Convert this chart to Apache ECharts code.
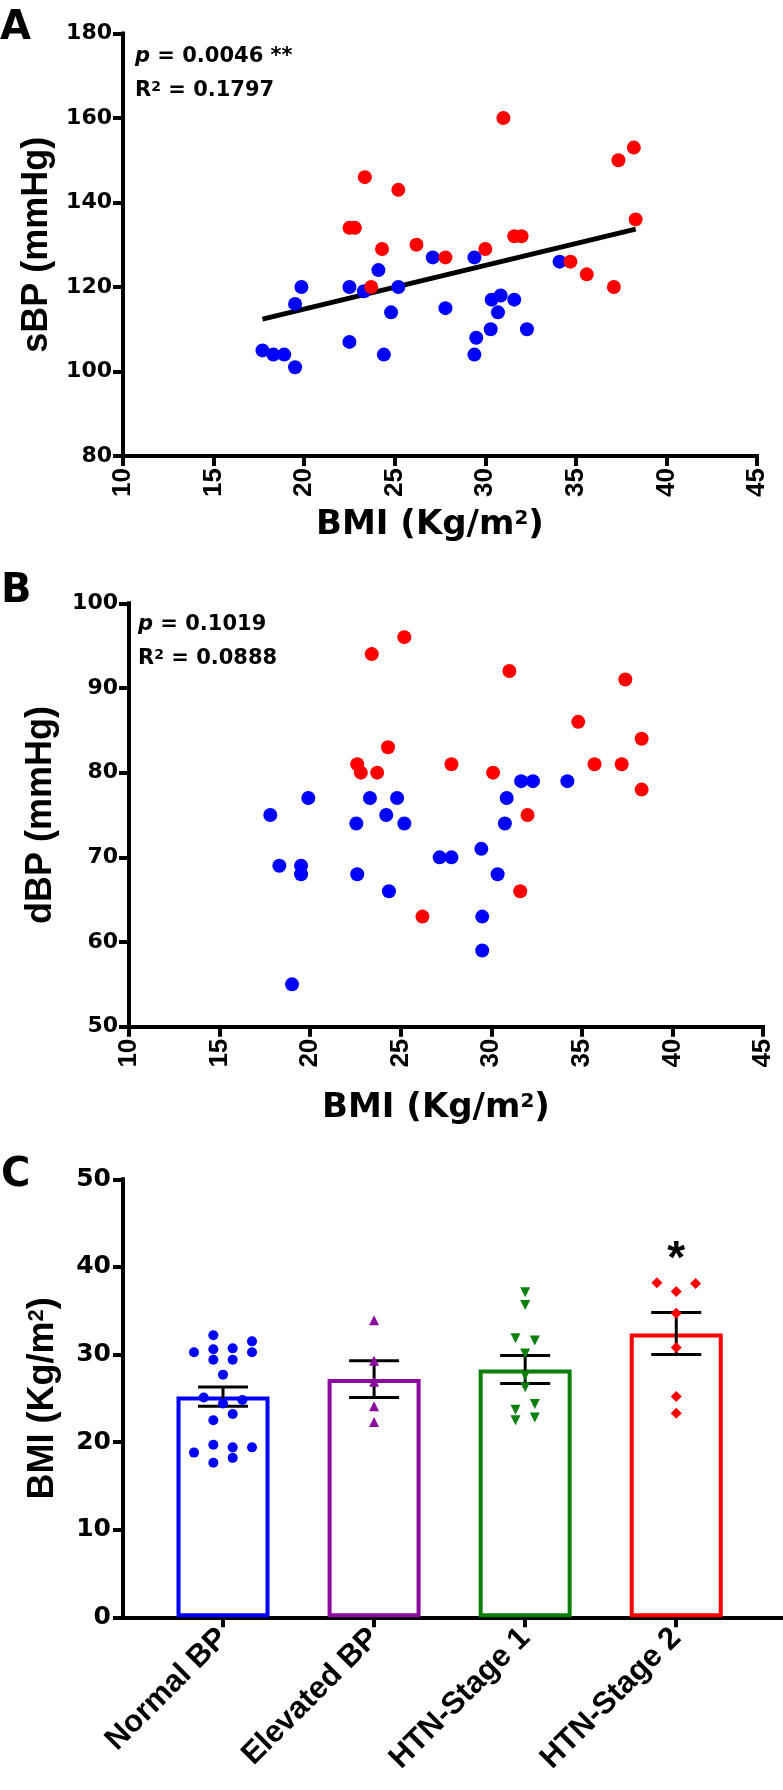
<!DOCTYPE html>
<html><head><meta charset="utf-8">
<script src="https://cdn.jsdelivr.net/npm/echarts@6/dist/echarts.min.js"></script>
<style>html,body{margin:0;padding:0;background:#fff}#c{width:783px;height:1790px}</style>
</head><body><div id="c"></div>
<script>
// ---------- DATA ----------
// Panel A: BMI vs systolic BP
const aBlueBMI = [17.7, 18.3, 18.9, 19.5, 19.5, 19.85, 22.5, 22.5, 23.3, 24.1, 24.4, 24.8, 25.2, 27.1, 27.8, 29.4, 29.4, 29.5, 30.3, 30.35, 30.7, 30.85, 31.6, 32.3, 34.1];
const aBlueSBP = [105, 104, 104, 101, 116, 120, 107, 120, 119, 124, 104, 114, 120, 127, 115, 127, 104, 108, 110, 117, 114, 118, 117, 110, 126];
const aRedBMI = [22.5, 22.8, 23.35, 23.7, 24.3, 25.2, 26.2, 27.8, 30.0, 31.0, 31.6, 32.0, 34.7, 35.6, 37.1, 37.35, 38.2, 38.3];
const aRedSBP = [134, 134, 146, 120, 129, 143, 130, 127, 129, 160, 132, 132, 126, 123, 120, 150, 153, 136];
const fitBMI = [17.7, 38.3];
const fitSBP = [112.4, 133.7];
const aStats = ['0.0046 **', '0.1797'];
const aXTicks = [10, 45, 5];
const aYTicks = [80, 180, 20];

// Panel B: BMI vs diastolic BP
const bBlueBMI = [17.8, 18.3, 19.0, 19.5, 19.5, 19.9, 22.55, 22.6, 23.3, 24.2, 24.35, 24.8, 25.2, 27.15, 27.8, 29.45, 29.5, 29.5, 30.35, 30.75, 30.85, 31.65, 32.3, 34.2];
const bBlueDBP = [75, 69, 55, 69, 68, 77, 74, 68, 77, 75, 66, 77, 74, 70, 70, 71, 63, 59, 68, 74, 77, 79, 79, 79];
const bRedBMI = [22.6, 22.8, 23.4, 23.7, 24.3, 25.2, 26.2, 27.8, 30.1, 31.0, 31.6, 32.0, 34.8, 35.7, 37.2, 37.4, 38.3, 38.3];
const bRedDBP = [81, 80, 94, 80, 83, 96, 63, 81, 80, 92, 66, 75, 86, 81, 81, 91, 84, 78];
const bStats = ['0.1019', '0.0888'];
const bXTicks = [10, 45, 5];
const bYTicks = [50, 100, 10];

// Panel C: BMI by BP group
const groups = ['Normal BP', 'Elevated BP', 'HTN-Stage 1', 'HTN-Stage 2'];
const groupMean = [25.2, 27.2, 28.3, 32.4];
const groupSEM = [1.1, 2.1, 1.6, 2.4];
const normalBMI = [32.2, 30.25, 30.6, 30.7, 31.5, 30.25, 29.4, 29.4, 27.7, 25.1, 24.4, 24.8, 22.5, 23.2, 18.8, 19.7, 19.4, 19.4, 17.65, 18.2];
const elevatedBMI = [33.9, 29.3, 26.9, 24.1, 22.3];
const stage1BMI = [37.1, 35.65, 31.85, 31.6, 30.1, 27.6, 26.25, 23.7, 24.35, 22.5, 22.8];
const stage2BMI = [38.2, 38.1, 37.2, 34.7, 30.8, 25.2, 23.3];
const sigMarks = ['', '', '', '*'];
const cYTicks = [0, 50, 10];

// ---------- LAYOUT / STYLE (not data) ----------
const normalLane = [-1, -3, -1, 1, 3, 3, -1, 1, 0, -2, 0, 2, -1, 1, -3, -1, 1, 3, -1, 1];
const elevatedLane = [0, 0, 0, 0, 0];
const stage1Lane = [0, 0, -1, 1, 0, 0, 0, -1, 1, -1, 1];
const stage2Lane = [-2, 2, 0, 0, 0, 0, 0];
const LANE = 0.064;
const BLUE = '#0000ff', RED = '#ff0000', PURPLE = '#8a0a9e', GREEN = '#0b7f0b';
const groupColors = [BLUE, PURPLE, GREEN, RED];
const HF = 'DejaVu Sans', RF = 'Liberation Sans';

const axisLine = {show: true, onZero: false, lineStyle: {color: '#000', width: 4, cap: 'square'}};
const axisTick = {show: true, length: 10, inside: false, lineStyle: {color: '#000', width: 4}};
function richTitle(size, fam) {
  return {
    a: {fontFamily: fam, fontSize: size, fontWeight: 'bold', color: '#000'},
    s: {fontFamily: fam, fontSize: Math.round(size * 0.6), fontWeight: 'bold', color: '#000', verticalAlign: 'top', padding: [1, 0, 0, 0]}
  };
}
const bmiName = '{a|BMI (Kg/m}{s|2}{a|)}';
const zip = (xs, ys) => xs.map((x, i) => [x, ys[i]]);
const jit = (vals, lanes, g) => vals.map((v, i) => [g + lanes[i] * LANE, v]);

function scatterX(grid, ticks, gap) {
  return {
    gridIndex: grid, type: 'value', min: ticks[0], max: ticks[1], interval: ticks[2],
    axisLine, axisTick, splitLine: {show: false},
    axisLabel: {rotate: 90, fontFamily: RF, fontSize: 26, fontWeight: 'bold', color: '#000', margin: 12},
    name: bmiName, nameLocation: 'middle', nameGap: gap,
    nameTextStyle: {rich: richTitle(34, HF), padding: [0, 20, 0, 0]}
  };
}
function scatterY(grid, ticks, name, gap) {
  return {
    gridIndex: grid, type: 'value', min: ticks[0], max: ticks[1], interval: ticks[2],
    axisLine, axisTick, splitLine: {show: false},
    axisLabel: {fontFamily: HF, fontSize: 22, fontWeight: 'bold', color: '#000', margin: 11},
    name: name, nameLocation: 'middle', nameGap: gap,
    nameTextStyle: {fontFamily: RF, fontSize: 36, fontWeight: 'bold', color: '#000'}
  };
}
function statText(x, y, lines) {
  const rich = {
    i: {fontFamily: HF, fontSize: 21, fontWeight: 'bold', fontStyle: 'italic', color: '#000'},
    b: {fontFamily: HF, fontSize: 21, fontWeight: 'bold', color: '#000'},
    s: {fontFamily: HF, fontSize: 14, fontWeight: 'bold', color: '#000', verticalAlign: 'top'}
  };
  return [
    {type: 'text', left: x, top: y, style: {text: '{i|p}{b| = ' + lines[0] + '}', rich}},
    {type: 'text', left: x, top: y + 34, style: {text: '{b|R}{s|2}{b| = ' + lines[1] + '}', rich}}
  ];
}
const letter = (t, x, y) => ({type: 'text', left: x, top: y, style: {text: t, fontFamily: HF, fontSize: 40, fontWeight: 'bold', fill: '#000'}});

const sigY = Math.max(...stage2BMI) + 2.6;

const option = {
  animation: false,
  backgroundColor: '#fff',
  grid: [
    {left: 123, top: 33.5, width: 634, height: 422.5},
    {left: 129, top: 603.3, width: 634, height: 423.4},
    {left: 123, top: 1179.3, width: 659, height: 438}
  ],
  xAxis: [
    scatterX(0, aXTicks, 52),
    scatterX(1, bXTicks, 64),
    {
      gridIndex: 2, type: 'value', min: 0.338, max: 4.7,
      axisLine, splitLine: {show: false},
      axisTick: Object.assign({}, axisTick, {customValues: [1, 2, 3, 4]}),
      axisLabel: {customValues: [1, 2, 3, 4], formatter: v => groups[Math.round(v) - 1] || '',
        rotate: 45, fontFamily: RF, fontSize: 31, fontWeight: 'bold', color: '#000', margin: 16}
    }
  ],
  yAxis: [
    scatterY(0, aYTicks, 'sBP (mmHg)', 66),
    scatterY(1, bYTicks, 'dBP (mmHg)', 70),
    {
      gridIndex: 2, type: 'value', min: cYTicks[0], max: cYTicks[1], interval: cYTicks[2],
      axisLine, axisTick, splitLine: {show: false},
      axisLabel: {fontFamily: HF, fontSize: 25, fontWeight: 'bold', color: '#000', margin: 12},
      name: bmiName, nameLocation: 'middle', nameGap: 62,
      nameTextStyle: {rich: richTitle(36, RF)}
    }
  ],
  series: [
    {type: 'line', xAxisIndex: 0, yAxisIndex: 0, data: zip(fitBMI, fitSBP), symbol: 'none',
      lineStyle: {color: '#000', width: 5}, z: 2, silent: true},
    {type: 'scatter', xAxisIndex: 0, yAxisIndex: 0, data: zip(aBlueBMI, aBlueSBP), symbolSize: 14, itemStyle: {color: BLUE, opacity: 1}, z: 3},
    {type: 'scatter', xAxisIndex: 0, yAxisIndex: 0, data: zip(aRedBMI, aRedSBP), symbolSize: 14, itemStyle: {color: RED, opacity: 1}, z: 4},
    {type: 'scatter', xAxisIndex: 1, yAxisIndex: 1, data: zip(bBlueBMI, bBlueDBP), symbolSize: 14, itemStyle: {color: BLUE, opacity: 1}, z: 3},
    {type: 'scatter', xAxisIndex: 1, yAxisIndex: 1, data: zip(bRedBMI, bRedDBP), symbolSize: 14, itemStyle: {color: RED, opacity: 1}, z: 4},
    {type: 'bar', xAxisIndex: 2, yAxisIndex: 2, barWidth: 93, z: 2,
      data: groups.map((g, i) => ({value: [i + 1, groupMean[i]], itemStyle: {color: '#fff', borderColor: groupColors[i], borderWidth: 4}}))},
    {type: 'custom', xAxisIndex: 2, yAxisIndex: 2, z: 3, encode: {x: 0, y: 1},
      data: groups.map((g, i) => [i + 1, groupMean[i], groupSEM[i]]),
      renderItem: (params, api) => {
        const x = api.value(0), m = api.value(1), s = api.value(2);
        const hi = api.coord([x, m + s]), lo = api.coord([x, m - s]);
        const w = 25, st = {stroke: '#000', lineWidth: 3};
        return {type: 'group', children: [
          {type: 'line', shape: {x1: hi[0], y1: hi[1], x2: lo[0], y2: lo[1]}, style: st},
          {type: 'line', shape: {x1: hi[0] - w, y1: hi[1], x2: hi[0] + w, y2: hi[1]}, style: st},
          {type: 'line', shape: {x1: lo[0] - w, y1: lo[1], x2: lo[0] + w, y2: lo[1]}, style: st}
        ]};
      }},
    {type: 'scatter', xAxisIndex: 2, yAxisIndex: 2, data: jit(normalBMI, normalLane, 1), symbol: 'circle', symbolSize: 10, itemStyle: {color: BLUE, opacity: 1}, z: 4},
    {type: 'scatter', xAxisIndex: 2, yAxisIndex: 2, data: jit(elevatedBMI, elevatedLane, 2), symbol: 'triangle', symbolSize: 10, itemStyle: {color: PURPLE, opacity: 1}, z: 4},
    {type: 'scatter', xAxisIndex: 2, yAxisIndex: 2, data: jit(stage1BMI, stage1Lane, 3), symbol: 'triangle', symbolRotate: 180, symbolSize: 10, itemStyle: {color: GREEN, opacity: 1}, z: 4},
    {type: 'scatter', xAxisIndex: 2, yAxisIndex: 2, data: jit(stage2BMI, stage2Lane, 4), symbol: 'diamond', symbolSize: 11, itemStyle: {color: RED, opacity: 1}, z: 4},
    {type: 'scatter', xAxisIndex: 2, yAxisIndex: 2, silent: true, z: 5,
      data: sigMarks.map((t, i) => t ? {value: [i + 1, sigY], name: t} : null).filter(Boolean),
      symbolSize: 2, itemStyle: {color: 'rgba(255,255,255,0)'},
      label: {show: true, position: 'inside', formatter: p => p.name, fontFamily: RF, fontSize: 46, fontWeight: 'bold', color: '#000', opacity: 1}}
  ],
  graphic: [
    letter('A', 0, 9), letter('B', 1, 572), letter('C', 1, 1156),
    ...statText(135, 46, aStats),
    ...statText(138, 614, bStats)
  ]
};
const chart = echarts.init(document.getElementById('c'));
chart.setOption(option);
</script></body></html>
